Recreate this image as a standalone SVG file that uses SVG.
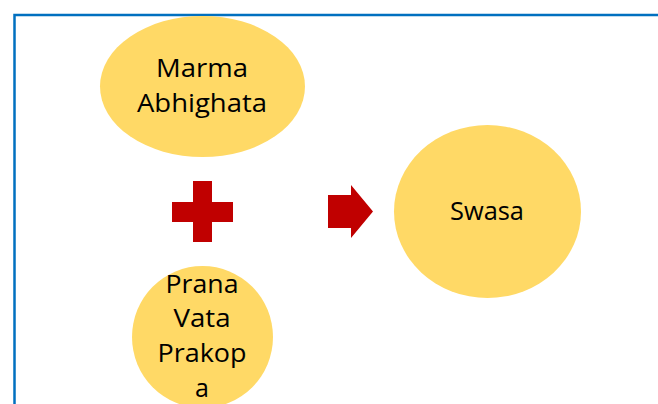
<svg xmlns="http://www.w3.org/2000/svg" width="658" height="404" viewBox="0 0 658 404">
<style>
.node{fill:#FFD966;}
.lbl{font-family:"Open Sans","Noto Sans",sans-serif;font-size:25px;fill:#000;text-anchor:middle;}
.sym{fill:#C00000;}
</style>
<rect width="658" height="404" fill="#fff"/>
<path d="M14.5 404 V15 H658" fill="none" stroke="#0070C0" stroke-width="2.5"/>
<g id="marma">
<ellipse class="node" cx="202.5" cy="86.5" rx="102.5" ry="70.5"/>
<text class="lbl" x="202" y="77" textLength="92" lengthAdjust="spacingAndGlyphs">Marma</text>
<text class="lbl" x="202" y="112" textLength="130" lengthAdjust="spacingAndGlyphs">Abhighata</text>
</g>
<g id="plus">
<path class="sym" d="M193 181 H212 V202 H233 V222 H212 V242 H193 V222 H172 V202 H193 Z"/>
</g>
<g id="connectors">
<path class="sym" d="M328 195 H351 V185 L373 211.5 L351 238 V228 H328 Z"/>
</g>
<g id="swasa">
<ellipse class="node" cx="487.5" cy="211.5" rx="93.5" ry="86.5"/>
<text class="lbl" x="487" y="220" textLength="74" lengthAdjust="spacingAndGlyphs">Swasa</text>
</g>
<g id="prana">
<ellipse class="node" cx="202.5" cy="337" rx="70.5" ry="71"/>
<text class="lbl" x="202" y="293" textLength="73" lengthAdjust="spacingAndGlyphs">Prana</text>
<text class="lbl" x="202" y="327" textLength="57" lengthAdjust="spacingAndGlyphs">Vata</text>
<text class="lbl" x="202" y="362" textLength="89" lengthAdjust="spacingAndGlyphs">Prakop</text>
<text class="lbl" x="202" y="397">a</text>
</g>
</svg>
